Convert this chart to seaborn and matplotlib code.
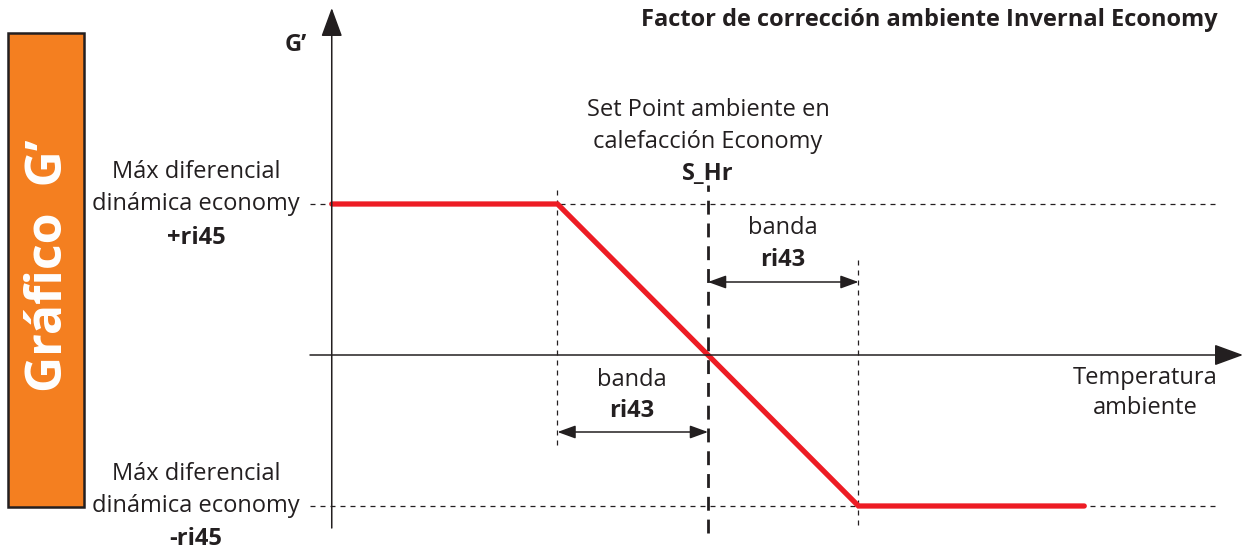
import matplotlib
matplotlib.use("Agg")
import matplotlib.pyplot as plt
from matplotlib.patches import Rectangle
import seaborn as sns

# Curve of the G' correction factor vs room temperature (units: S_Hr = 0, band ri43 = 1, ri45 = 1)
temp = [-2.5, -1.0, 1.0, 2.5]
g_factor = [1.0, 1.0, -1.0, -1.0]
band_edges = [-1.0, 0.0, 1.0]
ri45 = 1.0

title = "Factor de corrección ambiente Invernal Economy"
side_label = "Gráfico  G’"
y_label = "G’"
x_label = ["Temperatura", "ambiente"]
max_label = ["Máx diferencial", "dinámica economy"]
setpoint_label = ["Set Point ambiente en", "calefacción Economy"]

sns.set_theme(style="white")
plt.rcParams['font.family'] = ['Open Sans', 'DejaVu Sans']

DARK = "#231F20"
RED = "#ED1C24"
ORANGE = "#F47F20"
W, H = 1245, 552
SX, SY = 150.5, 151.0   # pixels per unit
X0, Y0 = 708, 355       # pixel position of the origin

fig = plt.figure(figsize=(W / 100, H / 100), dpi=100)
ax = fig.add_axes([0, 0, 1, 1])
ax.set_xlim(-X0 / SX, (W - X0) / SX)
ax.set_ylim((Y0 - H) / SY, Y0 / SY)
ax.axis("off")


def px(x, y):
    """pixel position -> data coords (for labels only)"""
    return (x - X0) / SX, (Y0 - y) / SY


def arrow(x0, y0, x1, y1, style, scale, lw):
    ax.annotate("", xy=(x1, y1), xytext=(x0, y0),
                arrowprops=dict(arrowstyle=style, mutation_scale=scale, lw=lw,
                                color=DARK, shrinkA=0, shrinkB=0))


# axes
xa0, _ = px(310, 0)
xa1, _ = px(1243, 0)
arrow(xa0, 0, xa1, 0, "-|>,head_length=0.9,head_width=0.33", 20, 1.1)
yax, ya0 = px(330, 528)
_, ya1 = px(0, 8)
arrow(temp[0], ya0, temp[0], ya1, "-|>,head_length=0.9,head_width=0.33", 20, 1.1)

# dashed reference lines
xd0, _ = px(310, 0)
xd1, _ = px(1220, 0)
ax.hlines([ri45, -ri45], xd0, xd1, colors=DARK, lw=0.9, linestyles=(0, (4, 4)))
_, v_top = px(0, 185)
_, v_bot1 = px(0, 445)
_, v_top3 = px(0, 260)
_, v_bot3 = px(0, 525)
_, v_bot2 = px(0, 533)
ax.vlines(band_edges[0], v_bot1, v_top, colors=DARK, lw=0.9, linestyles=(0, (4, 4)))
ax.vlines(band_edges[2], v_bot3, v_top3, colors=DARK, lw=0.9, linestyles=(0, (4, 4)))
ax.vlines(band_edges[1], v_bot2, v_top, colors=DARK, lw=2.0, linestyles=(0, (5, 3.2)))

# band arrows
_, ay_up = px(0, 282)
_, ay_lo = px(0, 432)
arrow(band_edges[1], ay_up, band_edges[2], ay_up, "<|-|>,head_length=1.1,head_width=0.4", 10, 1.1)
arrow(band_edges[0], ay_lo, band_edges[1], ay_lo, "<|-|>,head_length=1.1,head_width=0.4", 10, 1.1)

# the curve
sns.lineplot(x=temp, y=g_factor, ax=ax, color=RED, lw=3.8, sort=False,
             solid_capstyle="round", solid_joinstyle="miter")

# orange side box
fig.add_artist(Rectangle((8 / W, 1 - 507 / H), 76 / W, 474 / H, transform=fig.transFigure,
                         facecolor=ORANGE, edgecolor=DARK, lw=1.8))
fig.text(49 / W, 1 - 266 / H, side_label, rotation=90, color="white", fontsize=36,
         fontweight="bold", ha="center", va="center")

fs = 17


def label(x, y, s, bold=False, ha="center", size=fs):
    ax.text(*px(x, y), s, ha=ha, va="center", fontsize=size, color=DARK,
            fontweight="bold" if bold else "normal")


label(1218, 20, title, bold=True, ha="right", size=17)
label(296, 45, y_label, bold=True, size=17)

label(196, 172, max_label[0])
label(196, 204, max_label[1])
label(196, 238, "+ri45", bold=True)
label(196, 474, max_label[0])
label(196, 506, max_label[1])
label(196, 539, "-ri45", bold=True)

label(708, 110, setpoint_label[0])
label(708, 142, setpoint_label[1])
label(708, 174, "S_Hr", bold=True)

label(783, 228, "banda")
label(783, 260, "ri43", bold=True)
label(632, 380, "banda")
label(632, 411, "ri43", bold=True)

label(1145, 378, x_label[0])
label(1145, 408, x_label[1])

fig.savefig("out.png", dpi=100)
